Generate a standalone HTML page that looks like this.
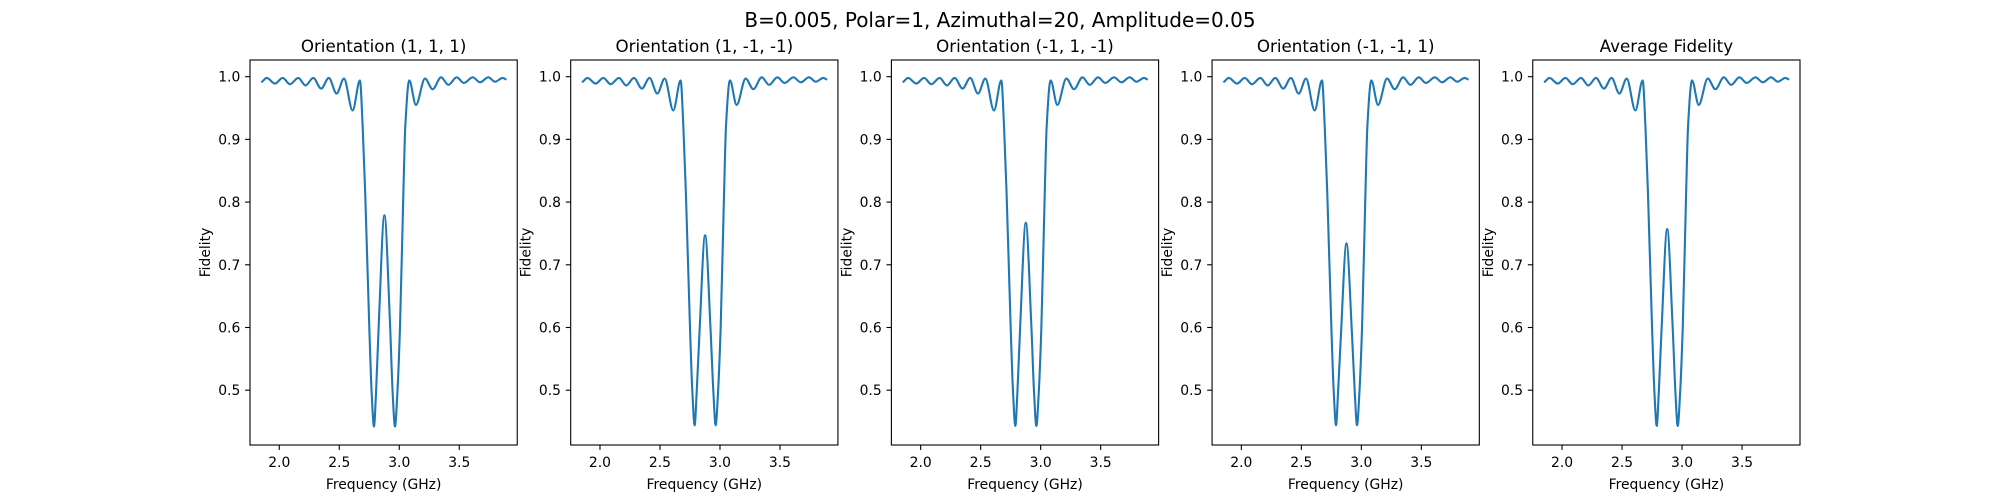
<!DOCTYPE html>
<html><head><meta charset="utf-8">
<style>
html,body{margin:0;padding:0;background:#fff;}
svg{display:block;font-family:"DejaVu Sans","Liberation Sans",sans-serif;}
</style></head>
<body>
<svg id="fig" width="2000" height="500" viewBox="0 0 2000 500">
<rect width="2000" height="500" fill="#fff"/>
<text x="1000" y="27" text-anchor="middle" font-size="20" fill="#000">B=0.005, Polar=1, Azimuthal=20, Amplitude=0.05</text>
</svg>
<script>
const titles = ["Orientation (1, 1, 1)","Orientation (1, -1, -1)","Orientation (-1, 1, -1)","Orientation (-1, -1, 1)","Average Fidelity"];
const freq = [1.857,1.895,1.964,2.028,2.089,2.158,2.219,2.283,2.349,2.413,2.478,2.539,2.611,2.672,2.695,2.716,2.750,2.770,2.789,2.806,2.830,2.876,2.922,2.945,2.964,2.984,3.006,3.034,3.050,3.083,3.139,3.214,3.278,3.348,3.409,3.478,3.539,3.612,3.673,3.742,3.798,3.862,3.885];
const fid1 = [0.992,0.998,0.989,0.998,0.988,0.998,0.986,0.998,0.981,0.998,0.973,0.997,0.946,0.994,0.920,0.814,0.601,0.495,0.442,0.495,0.610,0.779,0.610,0.495,0.442,0.495,0.601,0.814,0.920,0.994,0.955,0.997,0.980,0.999,0.987,0.999,0.990,0.999,0.991,0.999,0.992,0.998,0.996];
const fid2 = [0.992,0.998,0.989,0.998,0.988,0.998,0.986,0.998,0.981,0.998,0.973,0.997,0.946,0.994,0.920,0.814,0.601,0.497,0.444,0.497,0.595,0.747,0.595,0.497,0.444,0.497,0.601,0.814,0.920,0.994,0.955,0.997,0.980,0.999,0.987,0.999,0.990,0.999,0.991,0.999,0.992,0.998,0.996];
const fid3 = [0.992,0.998,0.989,0.998,0.988,0.998,0.986,0.998,0.981,0.998,0.973,0.997,0.946,0.994,0.920,0.814,0.601,0.496,0.443,0.496,0.605,0.767,0.605,0.496,0.443,0.496,0.601,0.814,0.920,0.994,0.955,0.997,0.980,0.999,0.987,0.999,0.990,0.999,0.991,0.999,0.992,0.998,0.996];
const fid4 = [0.992,0.998,0.989,0.998,0.988,0.998,0.986,0.998,0.981,0.998,0.973,0.997,0.946,0.994,0.920,0.814,0.601,0.497,0.444,0.497,0.589,0.734,0.589,0.497,0.444,0.497,0.601,0.814,0.920,0.994,0.955,0.997,0.980,0.999,0.987,0.999,0.990,0.999,0.991,0.999,0.992,0.998,0.996];
const fid5 = [0.992,0.998,0.989,0.998,0.988,0.998,0.986,0.998,0.981,0.998,0.973,0.997,0.946,0.994,0.920,0.814,0.601,0.496,0.443,0.496,0.600,0.757,0.600,0.496,0.443,0.496,0.601,0.814,0.920,0.994,0.955,0.997,0.980,0.999,0.987,0.999,0.990,0.999,0.991,0.999,0.992,0.998,0.996];
const xTicks = [2.0,2.5,3.0,3.5];
const xTickLabels = ["2.0","2.5","3.0","3.5"];
const yTicks = [0.5,0.6,0.7,0.8,0.9,1.0];
const yTickLabels = ["0.5","0.6","0.7","0.8","0.9","1.0"];
const series = [fid1,fid2,fid3,fid4,fid5];

const NS="http://www.w3.org/2000/svg";
const svg=document.getElementById('fig');
function mk(tag,attrs,parent){const e=document.createElementNS(NS,tag);for(const k in attrs)e.setAttribute(k,attrs[k]);(parent||svg).appendChild(e);return e;}

const AX_W=267.24, AX_H=385, AX_TOP=60, STEP=320.69, AX_L0=250;
const XMIN=1.756, XMAX=3.983, YMIN=0.4126, YMAX=1.0266;

function monotone(xs,ys){
  const n=xs.length,d=[],m=new Array(n);
  for(let i=0;i<n-1;i++)d.push((ys[i+1]-ys[i])/(xs[i+1]-xs[i]));
  m[0]=d[0];m[n-1]=d[n-2];
  for(let i=1;i<n-1;i++){
    if(d[i-1]*d[i]<=0){m[i]=0;}
    else{const h0=xs[i]-xs[i-1],h1=xs[i+1]-xs[i];const w1=2*h1+h0,w2=h1+2*h0;m[i]=(w1+w2)/(w1/d[i-1]+w2/d[i]);}
  }
  return m;
}

series.forEach((vals,p)=>{
  const L=AX_L0+p*STEP;
  const sx=v=>L+(v-XMIN)/(XMAX-XMIN)*AX_W;
  const sy=v=>AX_TOP+(YMAX-v)/(YMAX-YMIN)*AX_H;
  const g=mk('g',{});
  
  
  const t=mk('text',{x:L+AX_W/2,y:52,'text-anchor':'middle','font-size':'16.7',fill:'#000'},g);
  t.textContent=titles[p];
  
  
  const m=monotone(freq,vals);
  let d='M'+sx(freq[0]).toFixed(2)+','+sy(vals[0]).toFixed(2);
  for(let i=0;i<freq.length-1;i++){
    const h=freq[i+1]-freq[i];
    const c1x=freq[i]+h/3,c1y=vals[i]+m[i]*h/3,c2x=freq[i+1]-h/3,c2y=vals[i+1]-m[i+1]*h/3;
    d+=' C'+sx(c1x).toFixed(2)+','+sy(c1y).toFixed(2)+' '+sx(c2x).toFixed(2)+','+sy(c2y).toFixed(2)+' '+sx(freq[i+1]).toFixed(2)+','+sy(vals[i+1]).toFixed(2);
  }
  const line=mk('path',{d:d,fill:'none',stroke:'#1f77b4','stroke-width':'2.1','stroke-linejoin':'round','stroke-linecap':'square'},g);
  
  
  const fr=mk('rect',{x:L,y:AX_TOP,width:AX_W,height:AX_H,fill:'none',stroke:'#000','stroke-width':'1.1'},g);
  
  
  xTicks.forEach((v,i)=>{
    const x=sx(v);
    const tk=mk('line',{x1:x,x2:x,y1:AX_TOP+AX_H,y2:AX_TOP+AX_H+4.9,stroke:'#000','stroke-width':'1.1'},g);
    
    
    const tl=mk('text',{x:x,y:467,'text-anchor':'middle','font-size':'13.9',fill:'#000'},g);
    tl.textContent=xTickLabels[i];
    
    
  });
  yTicks.forEach((v,i)=>{
    const y=sy(v);
    const tk=mk('line',{x1:L-4.9,x2:L,y1:y,y2:y,stroke:'#000','stroke-width':'1.1'},g);
    
    
    const tl=mk('text',{x:L-9.7,y:y+5,'text-anchor':'end','font-size':'13.9',fill:'#000'},g);
    tl.textContent=yTickLabels[i];
    
    
  });
  const xl=mk('text',{x:L+AX_W/2,y:489,'text-anchor':'middle','font-size':'13.9',fill:'#000'},g);
  xl.textContent='Frequency (GHz)';
  
  
  const yx=L-40, yy=AX_TOP+AX_H/2;
  const yl=mk('text',{x:yx,y:yy,'text-anchor':'middle','font-size':'13.9',fill:'#000',transform:'rotate(-90 '+yx+' '+yy+')'},g);
  yl.textContent='Fidelity';
  
  
});
</script>
</body></html>
